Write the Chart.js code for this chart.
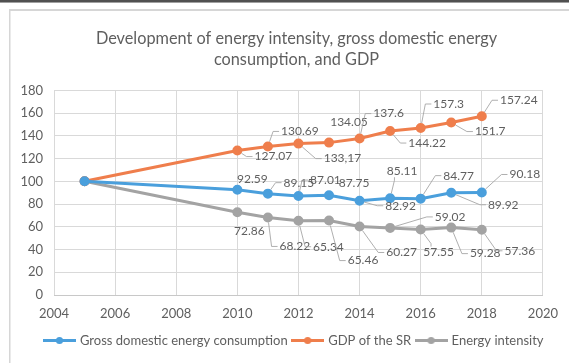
<!DOCTYPE html>
<html>
<head>
<meta charset="utf-8">
<script src="https://cdn.jsdelivr.net/npm/chart.js@4.4.1/dist/chart.umd.min.js"></script>
<style>
  html, body { margin: 0; padding: 0; background: #fff; }
  #wrap { position: relative; width: 569px; height: 363px; }
</style>
</head>
<body>
<div id="wrap"><canvas id="c" width="569" height="363"></canvas></div>
<script>
// ---- data ----
const years = [2005, 2010, 2011, 2012, 2013, 2014, 2015, 2016, 2017, 2018];
const consumption = [100, 92.59, 89.15, 87.01, 87.75, 82.92, 85.11, 84.77, 89.92, 90.18];
const gdp = [100, 127.07, 130.69, 133.17, 134.05, 137.6, 144.22, 146.9, 151.7, 157.24];
const intensity = [100, 72.86, 68.22, 65.34, 65.46, 60.27, 59.02, 57.55, 59.28, 57.36];
const consumptionLabels = ['', '92.59', '89.15', '87.01', '87.75', '82.92', '85.11', '84.77', '89.92', '90.18'];
const gdpLabels = ['', '127.07', '130.69', '133,17', '134.05', '137.6', '144.22', '157.3', '151.7', '157.24'];
const intensityLabels = ['', '72.86', '68.22', '65.34', '65.46', '60.27', '59.02', '57.55', '59.28', '57.36'];
const seriesNames = ['Gross domestic energy consumption', 'GDP of the SR', 'Energy intensity'];
const titleLines = ['Development of energy intensity, gross domestic energy', 'consumption, and GDP'];
const xTicks = [2004, 2006, 2008, 2010, 2012, 2014, 2016, 2018, 2020];
const yTicks = [0, 20, 40, 60, 80, 100, 120, 140, 160, 180];

// ---- label placement (pixel offsets from the point, leader on/off) ----
const labelPlacement = [
  [null, [15,-11,0], [31,-11,1], [27,-16,1], [25,-12,0], [41,5,1], [12,-27,1], [38,-23,1], [52,12,1], [43,-18,1]],
  [null, [36,6,1], [32,-15,1], [44,15,1], [20,-20,0], [29,-25,1], [37,12,1], [28,-24,1], [39,9,1], [37,-16,1]],
  [null, [12,19,0], [27,29,1], [30,26,1], [34,40,1], [42,26,1], [60,-11,1], [18,23,1], [34,26,1], [38,21,1]]
];
const labelTexts = [consumptionLabels, gdpLabels, intensityLabels];

const colors = ['#4A9FDC', '#EF7E4C', '#A3A3A3'];
const FONT = 'Lato, "Open Sans", sans-serif';
const TEXT = '#5f5f5f';

function toPoints(vals) { return years.map((y, i) => ({x: y, y: vals[i]})); }

function markerCanvas(color) {
  const c = document.createElement('canvas');
  c.width = 33; c.height = 9;
  const g = c.getContext('2d');
  g.strokeStyle = color; g.lineWidth = 3;
  g.beginPath(); g.moveTo(0, 4.5); g.lineTo(33, 4.5); g.stroke();
  g.fillStyle = color;
  g.beginPath(); g.arc(16.5, 4.5, 3.6, 0, Math.PI * 2); g.fill();
  return c;
}

const framePlugin = {
  id: 'frame',
  beforeDraw(chart) {
    const ctx = chart.ctx;
    ctx.save();
    ctx.fillStyle = '#ffffff';
    ctx.fillRect(0, 0, chart.width, chart.height);
    ctx.fillStyle = '#505050';
    ctx.fillRect(0, 0, chart.width, 2);
    ctx.fillStyle = '#a0a0a0';
    ctx.fillRect(0, 2, chart.width, 1);
    ctx.fillStyle = '#d6d6d6';
    ctx.fillRect(9, 9, chart.width - 9, 2);
    ctx.fillRect(9, 9, 1.5, chart.height - 9);
    ctx.restore();
  }
};

const blockShift = {
  id: 'blockShift',
  afterLayout(chart) {
    if (chart.legend) { chart.legend.left += 14; chart.legend.right += 14; }
    if (chart.titleBlock) { chart.titleBlock.left += 16; chart.titleBlock.right += 16; }
  }
};

const labelPlugin = {
  id: 'pointLabels',
  afterDatasetsDraw(chart) {
    const ctx = chart.ctx;
    ctx.save();
    ctx.font = '12px ' + FONT;
    ctx.textAlign = 'center';
    ctx.textBaseline = 'middle';
    chart.data.datasets.forEach((ds, di) => {
      const meta = chart.getDatasetMeta(di);
      meta.data.forEach((pt, i) => {
        const place = labelPlacement[di][i];
        const txt = labelTexts[di][i];
        if (!place || !txt) return;
        const cx = pt.x + place[0], cy = pt.y + place[1];
        const w = ctx.measureText(txt).width, h = 12;
        const left = cx - w / 2, top = cy - h / 2, bottom = cy + h / 2;
        if (place[2]) {
          let ax, ay, sx, sy;
          if (pt.x < left - 3) { ax = left - 2; ay = cy; sx = left - 8; sy = cy; }
          else if (pt.y < top) { ax = cx - w / 4; ay = top; sx = ax; sy = top - 3; }
          else { ax = cx - w / 4; ay = bottom; sx = ax; sy = bottom + 3; }
          const dx = pt.x - sx, dy = pt.y - sy, d = Math.hypot(dx, dy);
          ctx.strokeStyle = '#a6a6a6'; ctx.lineWidth = 0.9;
          ctx.beginPath();
          ctx.moveTo(ax, ay); ctx.lineTo(sx, sy);
          if (d > 6) ctx.lineTo(pt.x - dx / d * 5, pt.y - dy / d * 5);
          ctx.stroke();
        }
        ctx.fillStyle = TEXT;
        ctx.fillText(txt, cx, cy);
      });
    });
    ctx.restore();
  }
};

const datasets = [consumption, gdp, intensity].map((vals, i) => ({
  label: seriesNames[i],
  data: toPoints(vals),
  borderColor: colors[i],
  backgroundColor: colors[i],
  pointBackgroundColor: colors[i],
  pointBorderColor: colors[i],
  pointRadius: 3.5,
  pointHoverRadius: 3.5,
  borderWidth: 3,
  tension: 0,
  fill: false
}));

new Chart(document.getElementById('c'), {
  type: 'line',
  data: { datasets },
  plugins: [framePlugin, blockShift, labelPlugin],
  options: {
    responsive: false,
    animation: false,
    events: [],
    layout: { padding: { left: 10, right: 18, top: 0, bottom: 6 } },
    plugins: {
      tooltip: { enabled: false },
      title: {
        display: true,
        text: titleLines,
        color: TEXT,
        font: { family: FONT, size: 16.3, weight: 'normal', lineHeight: 1.3 },
        padding: { top: 28, bottom: 20 }
      },
      legend: {
        display: true,
        position: 'bottom',
        labels: {
          color: TEXT,
          font: { family: FONT, size: 13 },
          usePointStyle: true,
          pointStyleWidth: 28,
          padding: 6,
          generateLabels(chart) {
            const items = Chart.defaults.plugins.legend.labels.generateLabels(chart);
            items.forEach((it, i) => { it.pointStyle = markerCanvas(colors[i]); });
            return items;
          }
        }
      }
    },
    scales: {
      x: {
        type: 'linear',
        min: 2004, max: 2020,
        afterBuildTicks(scale) { scale.ticks = xTicks.map(v => ({value: v})); },
        ticks: { color: TEXT, font: { family: FONT, size: 13 }, padding: 11, callback: v => String(v), maxRotation: 0 },
        grid: { color: '#d9d9d9', lineWidth: 1, drawTicks: false },
        border: { color: '#c8c8c8' },
        afterFit(scale) { scale.height = 33; }
      },
      y: {
        min: 0, max: 180,
        afterBuildTicks(scale) { scale.ticks = yTicks.map(v => ({value: v})); },
        ticks: { color: TEXT, font: { family: FONT, size: 13 }, padding: 11 },
        grid: { color: '#d9d9d9', lineWidth: 1, drawTicks: false },
        border: { display: false },
        afterFit(scale) { scale.width = 44; }
      }
    }
  }
});
</script>
</body>
</html>
